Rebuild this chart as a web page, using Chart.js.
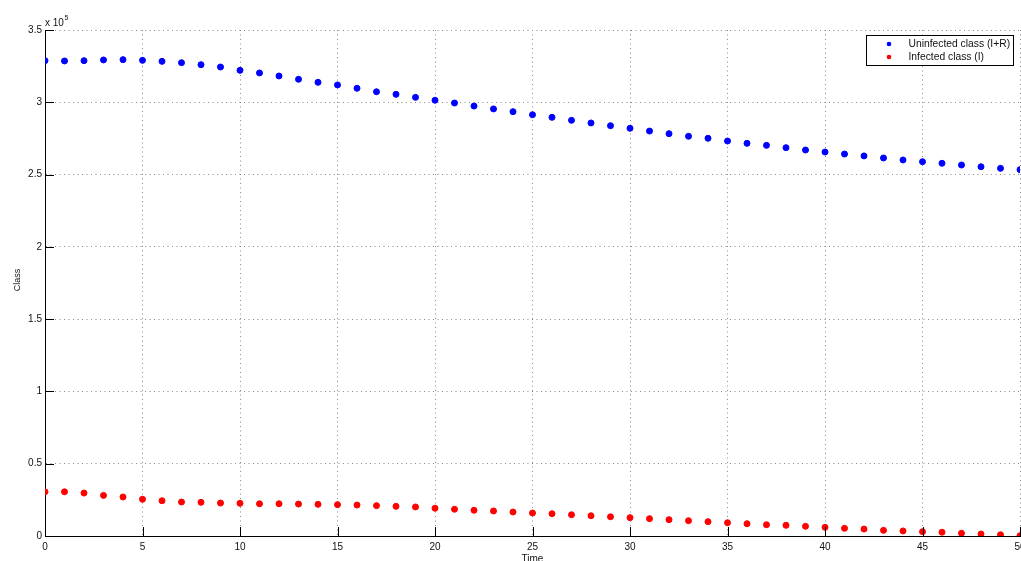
<!DOCTYPE html>
<html>
<head>
<meta charset="utf-8">
<title>Class vs Time</title>
<script src="https://cdn.jsdelivr.net/npm/chart.js@4.4.1/dist/chart.umd.min.js"></script>
<style>
  html, body { margin: 0; padding: 0; background: #ffffff; }
  #wrap { width: 1021px; height: 561px; position: relative; }
</style>
</head>
<body>
<div id="wrap"><canvas id="chart" width="1021" height="561"></canvas></div>
<script>
// Time steps 0..50
const timeSteps = [0,1,2,3,4,5,6,7,8,9,10,11,12,13,14,15,16,17,18,19,20,21,22,23,24,25,
  26,27,28,29,30,31,32,33,34,35,36,37,38,39,40,41,42,43,44,45,46,47,48,49,50];

// Uninfected class (I+R)
const uninfected = [328800,328600,328800,329300,329500,329000,328300,327400,326000,324400,
  322100,320300,318200,315900,313800,312000,309700,307300,305500,303400,
  301400,299500,297400,295400,293500,291400,289600,287500,285700,283800,
  282000,280100,278300,276500,275100,273200,271600,270200,268600,267000,
  265600,264200,262900,261500,260100,258900,257800,256600,255400,254300,253400];

// Infected class (I)
const infected = [30600,30600,29700,28100,27000,25400,24400,23500,23300,22800,
  22600,22300,22300,22100,21900,21700,21400,21000,20500,20100,
  19200,18500,17800,17300,16600,15900,15400,14700,14000,13300,
  12700,12000,11300,10600,9900,9200,8500,7800,7400,6700,
  6000,5300,4800,3900,3500,3000,2600,1900,1400,900,200];

const seriesLabels = ['Uninfected class (I+R)', 'Infected class (I)'];
const seriesColors = ['#0000ff', '#ff0000'];

const yTicks = [0, 50000, 100000, 150000, 200000, 250000, 300000, 350000];
const xTicks = [0, 5, 10, 15, 20, 25, 30, 35, 40, 45, 50];
const yExponent = 5;

const FONT = "'Liberation Sans', Arial, Helvetica, sans-serif";
const TEXT = '#111111';

function toPoints(values) {
  return timeSteps.map((t, i) => ({ x: t, y: values[i] }));
}

// Inward tick marks, exponent label, axis labels and boxed legend
const decorations = {
  id: 'decorations',
  afterDraw(chart) {
    const { ctx, chartArea: a, scales } = chart;
    const xs = scales.x, ys = scales.y;
    ctx.save();

    // tick marks pointing into the plot
    ctx.strokeStyle = '#000';
    ctx.lineWidth = 1;
    ctx.beginPath();
    yTicks.forEach(v => {
      const py = Math.round(ys.getPixelForValue(v)) + 0.5;
      ctx.moveTo(a.left, py);
      ctx.lineTo(a.left + 9, py);
    });
    xTicks.forEach(v => {
      const px = Math.round(xs.getPixelForValue(v)) + 0.5;
      ctx.moveTo(px, a.bottom);
      ctx.lineTo(px, a.bottom - 9);
    });
    ctx.stroke();

    // "x 10^5" multiplier above the y axis
    ctx.fillStyle = TEXT;
    ctx.textAlign = 'left';
    ctx.textBaseline = 'alphabetic';
    ctx.font = '10px ' + FONT;
    const base = 'x 10';
    ctx.fillText(base, a.left, a.top - 4);
    const bw = ctx.measureText(base).width;
    ctx.font = '7px ' + FONT;
    ctx.fillText(String(yExponent), a.left + bw + 0.5, a.top - 10);

    // y axis label
    ctx.font = '9px ' + FONT;
    ctx.save();
    ctx.translate(18, (a.top + a.bottom) / 2 - 3);
    ctx.rotate(-Math.PI / 2);
    ctx.textAlign = 'center';
    ctx.textBaseline = 'middle';
    ctx.fillText('Class', 0, 0);
    ctx.restore();

    // x axis label
    ctx.font = '10px ' + FONT;
    ctx.textAlign = 'center';
    ctx.textBaseline = 'top';
    ctx.fillText('Time', (a.left + a.right) / 2, a.bottom + 18);

    // legend box
    const lw = 147, lh = 30;
    const lx = a.right - 7 - lw + 0.5;
    const ly = a.top + 5 + 0.5;
    ctx.fillStyle = '#ffffff';
    ctx.fillRect(lx, ly, lw, lh);
    ctx.strokeStyle = '#000';
    ctx.lineWidth = 1;
    ctx.strokeRect(lx, ly, lw, lh);
    ctx.font = '10.3px ' + FONT;
    ctx.textAlign = 'left';
    ctx.textBaseline = 'middle';
    chart.data.datasets.forEach((ds, i) => {
      const cy = ly + 8.5 + i * 13;
      ctx.fillStyle = ds.backgroundColor;
      ctx.beginPath();
      ctx.arc(lx + 22.5, cy, 2.3, 0, Math.PI * 2);
      ctx.fill();
      ctx.fillStyle = TEXT;
      ctx.fillText(ds.label, lx + 42, cy + 0.5);
    });

    ctx.restore();
  }
};

new Chart(document.getElementById('chart'), {
  type: 'scatter',
  data: {
    datasets: [
      {
        label: seriesLabels[0],
        data: toPoints(uninfected),
        backgroundColor: seriesColors[0],
        borderColor: seriesColors[0],
        pointStyle: 'circle',
        pointRadius: 3,
        pointBorderWidth: 1,
        showLine: false
      },
      {
        label: seriesLabels[1],
        data: toPoints(infected),
        backgroundColor: seriesColors[1],
        borderColor: seriesColors[1],
        pointStyle: 'circle',
        pointRadius: 3,
        pointBorderWidth: 1,
        showLine: false
      }
    ]
  },
  options: {
    responsive: false,
    animation: false,
    devicePixelRatio: 1,
    layout: { autoPadding: false, padding: { top: 30, right: 1, left: 0, bottom: 0 } },
    plugins: {
      legend: { display: false },
      tooltip: { enabled: false }
    },
    scales: {
      x: {
        type: 'linear',
        min: 0,
        max: 50,
        afterFit(scale) {
          scale.height = 25;
          scale.paddingLeft = 0;
          scale.paddingRight = 0;
        },
        afterBuildTicks(scale) { scale.ticks = xTicks.map(v => ({ value: v })); },
        ticks: {
          padding: 5,
          maxRotation: 0,
          autoSkip: false,
          color: TEXT,
          font: { family: FONT, size: 10 }
        },
        grid: { color: '#8a8a8a', lineWidth: 1, drawTicks: false },
        border: { display: true, color: '#000', width: 1, dash: [1, 3.5] }
      },
      y: {
        type: 'linear',
        min: 0,
        max: 350000,
        afterFit(scale) {
          scale.width = 45;
          scale.paddingTop = 0;
          scale.paddingBottom = 0;
        },
        afterBuildTicks(scale) { scale.ticks = yTicks.map(v => ({ value: v })); },
        ticks: {
          padding: 3,
          autoSkip: false,
          color: TEXT,
          font: { family: FONT, size: 10 },
          callback: v => String(v / Math.pow(10, yExponent))
        },
        grid: { color: '#8a8a8a', lineWidth: 1, drawTicks: false },
        border: { display: true, color: '#000', width: 1, dash: [1, 3.5] }
      }
    }
  },
  plugins: [decorations]
});
</script>
</body>
</html>
